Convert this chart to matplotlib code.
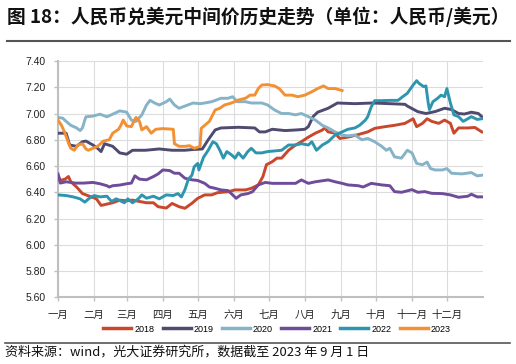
import matplotlib
matplotlib.use("Agg")
import matplotlib.pyplot as plt
from matplotlib.lines import Line2D

plt.rcParams['font.family'] = ['Liberation Sans', 'Noto Sans CJK SC', 'DejaVu Sans']

# day of year, central parity (CNY per USD)
cny_2018 = [(0, 6.53), (2, 6.49), (6, 6.50), (9, 6.52), (11, 6.48), (16, 6.44), (21, 6.39), (27, 6.37),
            (33, 6.35), (37, 6.30), (42, 6.31), (47, 6.32), (53, 6.34), (59, 6.335), (64, 6.34), (70, 6.33),
            (76, 6.32), (82, 6.32), (86, 6.29), (93, 6.28), (98, 6.315), (104, 6.29), (109, 6.278), (115, 6.316),
            (120, 6.354), (126, 6.38), (132, 6.38), (137, 6.397), (146, 6.404), (152, 6.418), (161, 6.418),
            (166, 6.43), (172, 6.456), (176, 6.52), (179, 6.61), (184, 6.633), (188, 6.66), (192, 6.66),
            (198, 6.72), (204, 6.76), (209, 6.785), (215, 6.82), (221, 6.85), (227, 6.874), (229, 6.89),
            (232, 6.86), (238, 6.85), (242, 6.81), (249, 6.82), (258, 6.84), (266, 6.86), (272, 6.887),
            (281, 6.90), (289, 6.91), (298, 6.925), (305, 6.96), (308, 6.90), (313, 6.925), (317, 6.96),
            (321, 6.94), (327, 6.925), (332, 6.95), (337, 6.925), (340, 6.85), (344, 6.89), (352, 6.89),
            (358, 6.894), (364, 6.86)]
cny_2019 = [(0, 6.85), (7, 6.85), (10, 6.76), (16, 6.75), (21, 6.785), (24, 6.79), (30, 6.76), (34, 6.735),
            (37, 6.71), (40, 6.77), (47, 6.75), (53, 6.70), (59, 6.69), (64, 6.72), (75, 6.72), (87, 6.73),
            (98, 6.72), (109, 6.72), (115, 6.725), (124, 6.73), (129, 6.80), (135, 6.875), (140, 6.89),
            (155, 6.895), (169, 6.89), (173, 6.86), (178, 6.86), (184, 6.88), (195, 6.87), (205, 6.875),
            (212, 6.88), (215, 6.90), (219, 6.976), (223, 7.01), (232, 7.04), (240, 7.08), (255, 7.075),
            (270, 7.08), (285, 7.075), (298, 7.07), (300, 7.057), (309, 7.014), (316, 7.00), (324, 7.015),
            (332, 7.04), (338, 7.03), (344, 7.00), (349, 6.996), (355, 7.01), (361, 7.00), (364, 6.976)]
cny_2020 = [(0, 6.97), (4, 6.965), (7, 6.94), (11, 6.91), (16, 6.89), (19, 6.87), (21, 6.89), (23, 6.95),
            (24, 6.975), (30, 6.98), (36, 6.995), (42, 6.975), (47, 6.995), (53, 7.02), (59, 7.01), (63, 6.95),
            (67, 6.94), (72, 6.99), (76, 7.065), (79, 7.10), (83, 7.08), (87, 7.065), (93, 7.09), (96, 7.11),
            (100, 7.065), (104, 7.04), (110, 7.06), (116, 7.08), (122, 7.075), (126, 7.08), (132, 7.09),
            (140, 7.116), (146, 7.116), (150, 7.128), (154, 7.09), (161, 7.09), (166, 7.08), (175, 7.08),
            (180, 7.065), (186, 7.027), (192, 7.00), (198, 7.00), (204, 6.99), (209, 7.00), (215, 6.976),
            (221, 6.95), (227, 6.91), (232, 6.89), (238, 6.86), (244, 6.836), (249, 6.83), (255, 6.836),
            (261, 6.80), (266, 6.81), (272, 6.785), (278, 6.75), (282, 6.72), (285, 6.735), (289, 6.67),
            (295, 6.66), (300, 6.72), (304, 6.70), (308, 6.62), (313, 6.61), (317, 6.63), (320, 6.58),
            (324, 6.57), (330, 6.57), (334, 6.58), (338, 6.545), (347, 6.54), (355, 6.55), (360, 6.525),
            (364, 6.53)]
cny_2021 = [(0, 6.54), (2, 6.47), (7, 6.48), (15, 6.47), (22, 6.47), (30, 6.475), (36, 6.465), (42, 6.45),
            (44, 6.44), (47, 6.45), (53, 6.455), (59, 6.465), (63, 6.47), (66, 6.525), (70, 6.50), (76, 6.495),
            (82, 6.52), (86, 6.54), (90, 6.57), (96, 6.565), (100, 6.545), (104, 6.545), (109, 6.507),
            (115, 6.495), (120, 6.49), (126, 6.468), (130, 6.44), (135, 6.43), (140, 6.418), (146, 6.413),
            (150, 6.38), (153, 6.354), (157, 6.38), (163, 6.39), (167, 6.404), (172, 6.456), (178, 6.475),
            (184, 6.468), (204, 6.468), (209, 6.494), (215, 6.468), (221, 6.48), (232, 6.494), (238, 6.48),
            (244, 6.468), (249, 6.456), (258, 6.45), (262, 6.44), (269, 6.468), (278, 6.456), (285, 6.45),
            (289, 6.405), (295, 6.40), (304, 6.42), (309, 6.40), (315, 6.405), (321, 6.392), (330, 6.39),
            (337, 6.38), (344, 6.362), (352, 6.37), (355, 6.385), (360, 6.365), (364, 6.365)]
cny_2022 = [(0, 6.38), (7, 6.375), (13, 6.365), (19, 6.35), (23, 6.325), (27, 6.355), (31, 6.375), (36, 6.365),
            (42, 6.37), (46, 6.33), (50, 6.35), (57, 6.32), (60, 6.35), (64, 6.32), (69, 6.35), (72, 6.38),
            (76, 6.355), (82, 6.37), (87, 6.35), (93, 6.38), (99, 6.375), (103, 6.39), (106, 6.365),
            (109, 6.42), (112, 6.50), (115, 6.53), (117, 6.595), (120, 6.62), (121, 6.57), (125, 6.667),
            (129, 6.72), (133, 6.785), (136, 6.77), (139, 6.72), (142, 6.66), (145, 6.71), (149, 6.685),
            (152, 6.66), (155, 6.70), (159, 6.66), (163, 6.71), (166, 6.735), (170, 6.70), (175, 6.70),
            (180, 6.71), (186, 6.715), (192, 6.72), (198, 6.76), (204, 6.76), (209, 6.77), (215, 6.76),
            (218, 6.785), (222, 6.72), (227, 6.76), (232, 6.785), (238, 6.836), (244, 6.86), (249, 6.88),
            (255, 6.89), (259, 6.91), (264, 6.95), (266, 6.976), (269, 7.05), (272, 7.098), (278, 7.098),
            (285, 7.10), (292, 7.10), (296, 7.128), (300, 7.154), (305, 7.217), (308, 7.25), (310, 7.23),
            (314, 7.205), (316, 7.21), (318, 7.078), (319, 7.03), (322, 7.09), (326, 7.116), (329, 7.14),
            (332, 7.128), (334, 7.19), (337, 7.08), (340, 6.99), (344, 6.976), (348, 6.94), (352, 6.96),
            (355, 6.976), (360, 6.955), (364, 6.96)]
cny_2023 = [(0, 6.95), (3, 6.91), (6, 6.85), (9, 6.775), (11, 6.735), (14, 6.72), (17, 6.76), (21, 6.77),
            (24, 6.73), (26, 6.72), (30, 6.735), (34, 6.75), (39, 6.79), (44, 6.80), (47, 6.85), (52, 6.88),
            (54, 6.91), (56, 6.95), (59, 6.905), (63, 6.90), (66, 6.955), (67, 6.97), (70, 6.94), (72, 6.875),
            (76, 6.90), (80, 6.85), (84, 6.88), (90, 6.885), (99, 6.88), (100, 6.77), (104, 6.75), (109, 6.75),
            (113, 6.755), (117, 6.735), (122, 6.75), (123, 6.887), (126, 6.91), (130, 6.94), (135, 7.027),
            (139, 7.04), (143, 7.065), (149, 7.08), (155, 7.103), (161, 7.116), (165, 7.14), (169, 7.14),
            (172, 7.19), (175, 7.217), (180, 7.22), (186, 7.21), (190, 7.19), (195, 7.14), (201, 7.14),
            (206, 7.128), (212, 7.14), (218, 7.166), (223, 7.19), (228, 7.21), (232, 7.19), (238, 7.19),
            (244, 7.175)]

years = ['2018', '2019', '2020', '2021', '2022', '2023']
series = [cny_2018, cny_2019, cny_2020, cny_2021, cny_2022, cny_2023]
colors = ['#C9472B', '#4E4A70', '#86B3C7', '#6E4C99', '#2D96AE', '#F39033']

month_days = [0, 31, 59, 90, 120, 151, 181, 212, 243, 273, 304, 334]
month_labels = ['一月', '二月', '三月', '四月', '五月', '六月', '七月', '八月', '九月', '十月', '十一月', '十二月']
y_ticks = [5.6, 5.8, 6.0, 6.2, 6.4, 6.6, 6.8, 7.0, 7.2, 7.4]

fig = plt.figure(figsize=(5.16, 3.64), dpi=100)
ax = fig.add_axes([58 / 516, 1 - 297.3 / 364, 425 / 516, 236.3 / 364])

for yr, s, c in zip(years, series, colors):
    xs = [p[0] for p in s]
    ys = [p[1] for p in s]
    ax.plot(xs, ys, color=c, lw=2.1, label=yr, solid_joinstyle='round', zorder=3)

ax.set_xlim(0, 365)
ax.set_ylim(5.6, 7.4)
ax.set_xticks(month_days)
ax.set_xticklabels(month_labels, fontsize=7.5)
ax.set_yticks(y_ticks)
ax.set_yticklabels(['%.2f' % v for v in y_ticks], fontsize=7.5)
ax.grid(True, color='#DCDCDC', lw=0.8, zorder=0)
for sp in ['top', 'right']:
    ax.spines[sp].set_visible(False)
for sp in ['left', 'bottom']:
    ax.spines[sp].set_color('#BFBFBF')
    ax.spines[sp].set_linewidth(1.5)
ax.tick_params(axis='both', colors='#BFBFBF', labelcolor='#222222', length=3, width=1)
ax.tick_params(axis='x', pad=6)
ax.tick_params(axis='y', pad=6)

handles = [Line2D([], [], color=c, lw=2.5) for c in colors]
fig.legend(handles, years, loc='center', bbox_to_anchor=(0.537, 0.096), ncol=6, frameon=False,
           fontsize=6.5, handlelength=3.1, handletextpad=0.35, columnspacing=0.9)

fig.text(0.0136, 0.953, '图 18：人民币兑美元中间价历史走势（单位：人民币/美元）', fontsize=13.5,
         fontweight='bold', family=['Noto Sans CJK SC'], va='center', ha='left', color='#111111')
fig.add_artist(Line2D([7 / 516, 510 / 516], [1 - 41 / 364, 1 - 41 / 364], color='#555555', lw=1.5))
fig.add_artist(Line2D([5 / 516, 510 / 516], [1 - 343 / 364, 1 - 343 / 364], color='#555555', lw=1.2))
fig.text(0.01, 1 - 352.5 / 364, '资料来源：wind，光大证券研究所，数据截至 2023 年 9 月 1 日', fontsize=9.4,
         family=['Noto Sans CJK SC'], va='center', ha='left', color='#111111')

fig.savefig('out.png', dpi=100)
